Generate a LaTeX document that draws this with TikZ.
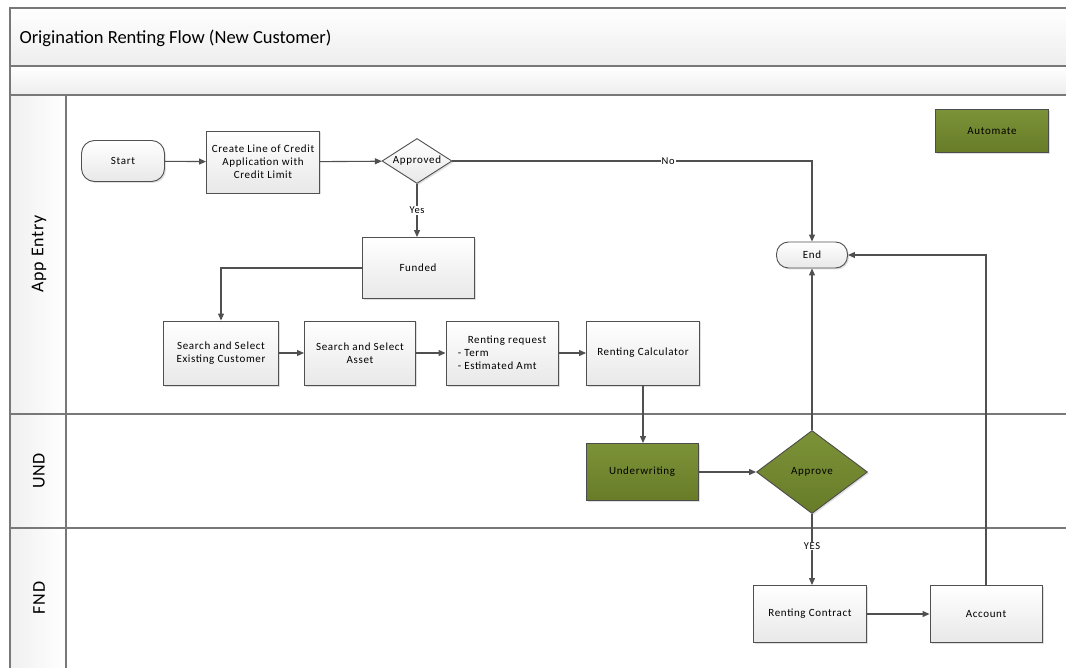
\documentclass[tikz,border=0pt]{standalone}
\usepackage{fontspec}
\setmainfont{Carlito}
\newfontfamily\nodefont[LetterSpace=6]{Carlito}
\newfontfamily\lanefont[LetterSpace=4]{Carlito}
\usetikzlibrary{shapes.geometric,arrows.meta,shadows}
\definecolor{frm}{RGB}{120,120,120}
\definecolor{lnk}{RGB}{80,80,80}
\definecolor{grnT}{RGB}{124,146,56}
\definecolor{grnB}{RGB}{104,124,40}
\tikzset{
  frame/.style={draw=frm,line width=1.6pt},
  box/.style={draw=lnk,line width=0.9pt,rectangle,top color=white,bottom color=gray!18,
     drop shadow={shadow xshift=1.5pt,shadow yshift=-1.5pt,opacity=0.25},
     font=\nodefont\fontsize{11}{13}\selectfont,align=center,inner sep=2pt},
  gbox/.style={box,top color=grnT,bottom color=grnB,draw=gray!60!black},
  term/.style={box,rounded corners=13pt},
  dia/.style={draw=lnk,line width=0.9pt,diamond,inner sep=-6pt,top color=white,bottom color=gray!18,
     drop shadow={shadow xshift=1.5pt,shadow yshift=-1.5pt,opacity=0.25},
     font=\nodefont\fontsize{11}{13}\selectfont},
  gdia/.style={dia,top color=grnT,bottom color=grnB,draw=gray!60!black},
  arr/.style={draw=lnk,line width=1.1pt,-{Triangle[length=7pt,width=6pt]}},
  lbl/.style={fill=white,inner sep=1pt,font=\nodefont\fontsize{10.5}{12}\selectfont},
  lane/.style={font=\lanefont\fontsize{18}{20}\selectfont,rotate=90}
}
\begin{document}
\begin{tikzpicture}[x=1pt,y=-1pt]
\useasboundingbox (0,0) rectangle (1066,668);
% bands
\shade[top color=white,bottom color=gray!14] (10,8) rectangle (1066,66);
\shade[top color=white,bottom color=gray!14] (10,66) rectangle (1066,95);
\shade[left color=gray!12,right color=white] (10,95) rectangle (66,668);
\draw[frame] (10,668) -- (10,8) -- (1066,8);
\draw[frame] (10,66) -- (1066,66);
\draw[frame] (10,95) -- (1066,95);
\draw[frame] (66,95) -- (66,668);
\draw[frame] (10,414) -- (1066,414);
\draw[frame] (10,528) -- (1066,528);
\node[anchor=west,font=\fontsize{18.5}{21}\selectfont] (title) at (16,38) {Origination Renting Flow (New Customer)};
\node[lane] (l1) at (39,254) {App Entry};
\node[lane] (l2) at (39,471) {UND};
\node[lane] (l3) at (39,598) {FND};
% nodes
\node[term,minimum width=83pt,minimum height=41pt] (start) at (123,161) {Start};
\node[box,minimum width=113pt,minimum height=62pt] (create) at (263,162) {Create Line of Credit\\Application with\\Credit Limit};
\node[dia,aspect=1.55,minimum width=70pt,minimum height=45pt] (appr) at (417,161) {Approved};
\node[term,minimum width=71pt,minimum height=26pt,rounded corners=12pt] (end) at (812,255) {End};
\node[box,minimum width=112pt,minimum height=61pt] (funded) at (418,268) {Funded};
\node[box,minimum width=115pt,minimum height=64pt] (cust) at (221,353) {Search and Select\\Existing Customer};
\node[box,minimum width=111pt,minimum height=64pt] (asset) at (360,353) {Search and Select\\Asset};
\node[box,minimum width=112pt,minimum height=64pt,align=left] (req) at (502,353) {\hspace*{10pt}Renting request\\- Term\\- Estimated Amt};
\node[box,minimum width=113pt,minimum height=64pt] (calc) at (643,353) {Renting Calculator};
\node[gbox,minimum width=112pt,minimum height=57pt] (und) at (642,472) {Underwriting};
\node[gdia,aspect=1.34,minimum width=111pt,minimum height=83pt] (apprv) at (812,472) {Approve};
\node[box,minimum width=113pt,minimum height=57pt] (contract) at (810,614) {Renting Contract};
\node[box,minimum width=112pt,minimum height=57pt] (account) at (986,614) {Account};
\node[gbox,minimum width=113pt,minimum height=43pt] (auto) at (992,131) {Automate};
% connectors
\draw[arr] (start) -- (create);
\draw[arr] (create) -- (appr);
\draw[arr] (appr.east) -| node[lbl,pos=0.3] {No} (end.north);
\draw[arr] (appr.south) -- node[lbl,pos=0.5] {Yes} (appr.south |- funded.north);
\draw[arr] (funded.west) -| (cust.north);
\draw[arr] (cust) -- (asset);
\draw[arr] (asset) -- (req);
\draw[arr] (req) -- (calc);
\draw[arr] (calc.south) -- (calc.south |- und.north);
\draw[arr] (und) -- (apprv);
\draw[arr] (apprv.north) -- (end.south);
\draw[arr] (apprv.south) -- node[lbl,pos=0.45] {YES} (apprv.south |- contract.north);
\draw[arr] (contract) -- (account);
\draw[arr] (account.north) |- (end.east);
\end{tikzpicture}
\end{document}
